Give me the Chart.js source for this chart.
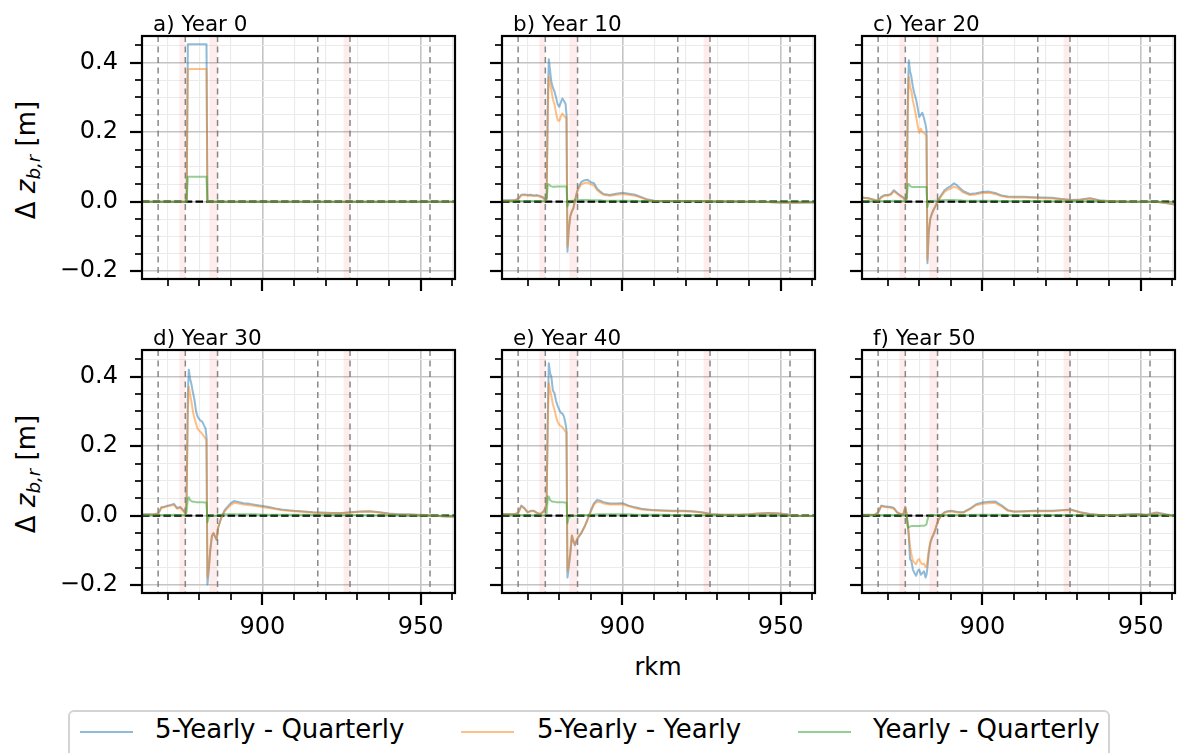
<!DOCTYPE html>
<html>
<head>
<meta charset="utf-8">
<title>Bed level difference between update frequencies</title>
<script src="https://cdn.jsdelivr.net/npm/chart.js@4.4.0/dist/chart.umd.min.js"></script>
<style>
  body { margin: 0; background: #fff; width: 1179px; height: 753px; overflow: hidden; position: relative;
         font-family: 'DejaVu Sans', sans-serif; color: #000; }
  canvas { position: absolute; }
  .lbl { position: absolute; white-space: nowrap; }
  .ttl { font-size: 21.5px; line-height: 22px; }
  .ylab { font-size: 26px; line-height: 26px; transform: translate(-50%, -50%) rotate(-90deg); }
  .ylab sub { font-size: 0.7em; vertical-align: -0.3em; line-height: 0; }
  .xlab { font-size: 24px; line-height: 24px; transform: translateX(-50%); }
  #legendBox { position: absolute; left: 68px; top: 710px; width: 1042px; height: 70px;
               border: 2px solid #d4d4d4; border-radius: 6px; box-sizing: border-box; }
  .legLine { position: absolute; height: 0; border-top: 2.5px solid; }
  .legText { position: absolute; font-size: 26px; line-height: 26px; }
</style>
</head>
<body>
<script>
//-- =============================================================================
//-- Bed level difference (delta z_b,r) along the river, six snapshots
//-- =============================================================================

// ===============================================================================
// 1. Data
// ===============================================================================
// river km of every sample (shared by all panels)
var rkm = [862, 864, 866, 867, 868, 869, 870, 871, 872, 873, 874, 875, 875.6,
  876.0, 876.4, 876.7, 877.1, 877.5, 878, 878.5, 879, 879.5, 880, 880.5, 881, 881.5, 882, 882.3, 882.6,
  883, 883.5, 884, 884.5, 885, 885.5, 886, 887, 888, 889, 890, 891, 892, 893, 894, 896, 898,
  900, 902, 904, 906, 908, 910, 913, 916, 919, 922, 925, 928, 931, 934, 937, 940, 943, 946, 949, 952, 955, 958, 961];

// a) Year 0
var fiveQ_y0 = [0, 0, 0, 0, 0, 0, 0, 0, 0, 0, 0, 0, 0,
  0, 0.453, 0.453, 0.453, 0.453, 0.453, 0.453, 0.453, 0.453, 0.453, 0.453, 0.453, 0.453, 0.453, 0.453, 0,
  0, 0, 0, 0, 0, 0, 0, 0, 0, 0, 0, 0, 0, 0, 0, 0, 0,
  0, 0, 0, 0, 0, 0, 0, 0, 0, 0, 0, 0, 0, 0, 0, 0, 0, 0, 0, 0, 0, 0, 0];
var fiveY_y0 = [0, 0, 0, 0, 0, 0, 0, 0, 0, 0, 0, 0, 0,
  0, 0.382, 0.382, 0.382, 0.382, 0.382, 0.382, 0.382, 0.382, 0.382, 0.382, 0.382, 0.382, 0.382, 0.382, 0,
  0, 0, 0, 0, 0, 0, 0, 0, 0, 0, 0, 0, 0, 0, 0, 0, 0,
  0, 0, 0, 0, 0, 0, 0, 0, 0, 0, 0, 0, 0, 0, 0, 0, 0, 0, 0, 0, 0, 0, 0];
var yearQ_y0 = [0, 0, 0, 0, 0, 0, 0, 0, 0, 0, 0, 0, 0,
  0, 0.072, 0.072, 0.072, 0.072, 0.072, 0.072, 0.072, 0.072, 0.072, 0.072, 0.072, 0.072, 0.072, 0.072, 0,
  0, 0, 0, 0, 0, 0, 0, 0, 0, 0, 0, 0, 0, 0, 0, 0, 0,
  0, 0, 0, 0, 0, 0, 0, 0, 0, 0, 0, 0, 0, 0, 0, 0, 0, 0, 0, 0, 0, 0, 0];

// b) Year 10
var fiveQ_y10 = [0.004, 0.004, 0.005, 0.008, 0.02, 0.021, 0.019, 0.02, 0.018, 0.019, 0.016, 0.012, 0.005,
  0.01, 0.3, 0.41, 0.378, 0.345, 0.328, 0.317, 0.3, 0.28, 0.273, 0.286, 0.297, 0.29, 0.282, 0.25, -0.144,
  -0.085, -0.042, -0.028, -0.019, 0.005, 0.024, 0.04, 0.057, 0.062, 0.063, 0.056, 0.053, 0.037, 0.029, 0.022, 0.019, 0.023,
  0.026, 0.023, 0.02, 0.013, 0.006, 0.003, 0.002, 0.002, 0.002, 0.002, 0.002, 0.001, 0.001, 0.001, 0.001, 0, 0, -0.001, -0.002, -0.003, -0.003, -0.002, -0.002];
var fiveY_y10 = [0.003, 0.003, 0.004, 0.007, 0.018, 0.019, 0.017, 0.018, 0.016, 0.017, 0.014, 0.01, 0.004,
  0.01, 0.26, 0.359, 0.34, 0.322, 0.295, 0.28, 0.255, 0.235, 0.232, 0.245, 0.254, 0.247, 0.242, 0.243, -0.13,
  -0.078, -0.04, -0.027, -0.018, 0.004, 0.021, 0.035, 0.05, 0.054, 0.055, 0.05, 0.046, 0.033, 0.026, 0.02, 0.017, 0.02,
  0.022, 0.02, 0.017, 0.011, 0.005, 0.002, 0.002, 0.002, 0.002, 0.002, 0.002, 0.001, 0.001, 0.001, 0.001, 0, 0, -0.001, -0.002, -0.003, -0.003, -0.002, -0.002];
var yearQ_y10 = [0.001, 0.001, 0.001, 0.001, 0.002, 0.002, 0.002, 0.002, 0.002, 0.002, 0.002, 0.002, 0.001,
  0.005, 0.05, 0.05, 0.046, 0.044, 0.043, 0.043, 0.043, 0.044, 0.044, 0.044, 0.044, 0.044, 0.044, 0.044, -0.014,
  -0.005, 0.001, 0.003, 0.003, 0.004, 0.004, 0.004, 0.005, 0.005, 0.005, 0.004, 0.004, 0.004, 0.004, 0.003, 0.003, 0.003,
  0.003, 0.003, 0.002, 0.002, 0.002, 0.001, 0.001, 0.001, 0.001, 0.001, 0.001, 0, 0, 0, 0, 0, 0, 0, 0, 0, 0, 0, 0];

// c) Year 20
var fiveQ_y20 = [0.012, 0.01, 0.005, 0.003, 0.014, 0.019, 0.019, 0.022, 0.033, 0.025, 0.018, 0.012, 0.005,
  0.01, 0.3, 0.407, 0.375, 0.36, 0.33, 0.31, 0.295, 0.27, 0.244, 0.25, 0.256, 0.24, 0.222, 0.205, -0.177,
  -0.09, -0.05, -0.035, -0.024, -0.015, -0.005, 0.005, 0.02, 0.033, 0.04, 0.045, 0.053, 0.047, 0.038, 0.03, 0.022, 0.024,
  0.028, 0.029, 0.025, 0.018, 0.015, 0.014, 0.014, 0.013, 0.012, 0.011, 0.008, 0.005, 0.006, 0.01, 0.004, 0.002, 0.001, 0, 0, 0, 0, -0.004, -0.008];
var fiveY_y20 = [0.011, 0.009, 0.004, 0.002, 0.012, 0.017, 0.017, 0.02, 0.03, 0.023, 0.016, 0.01, 0.004,
  0.01, 0.26, 0.359, 0.33, 0.32, 0.29, 0.27, 0.245, 0.22, 0.198, 0.21, 0.2, 0.198, 0.193, 0.19, -0.167,
  -0.085, -0.048, -0.034, -0.024, -0.015, -0.006, 0.003, 0.016, 0.028, 0.034, 0.038, 0.043, 0.04, 0.033, 0.026, 0.019, 0.021,
  0.025, 0.026, 0.022, 0.016, 0.013, 0.012, 0.012, 0.011, 0.01, 0.009, 0.007, 0.004, 0.005, 0.009, 0.003, 0.001, 0.001, 0, 0, 0, 0, -0.004, -0.008];
var yearQ_y20 = [0.001, 0.001, 0.001, 0.001, 0.002, 0.002, 0.002, 0.002, 0.003, 0.002, 0.002, 0.002, 0.001,
  0.004, 0.05, 0.051, 0.045, 0.043, 0.042, 0.042, 0.042, 0.042, 0.042, 0.042, 0.042, 0.042, 0.042, 0.042, -0.016,
  -0.004, 0, 0.001, 0.002, 0.003, 0.003, 0.004, 0.004, 0.005, 0.005, 0.005, 0.005, 0.004, 0.004, 0.003, 0.003, 0.003,
  0.003, 0.003, 0.003, 0.002, 0.002, 0.002, 0.002, 0.002, 0.002, 0.001, 0.001, 0.001, 0.001, 0.001, 0.001, 0, 0, 0, 0, 0, 0, 0, 0];

// d) Year 30
var fiveQ_y30 = [0.004, 0.004, 0.005, 0.006, 0.024, 0.026, 0.029, 0.031, 0.034, 0.022, 0.025, 0.015, 0.007,
  0.05, 0.35, 0.42, 0.395, 0.38, 0.355, 0.333, 0.3, 0.285, 0.278, 0.273, 0.27, 0.26, 0.251, 0.227, -0.198,
  -0.16, -0.1, -0.06, -0.05, -0.06, -0.07, -0.034, -0.005, 0.015, 0.026, 0.036, 0.042, 0.04, 0.038, 0.036, 0.034, 0.031,
  0.028, 0.025, 0.021, 0.018, 0.016, 0.014, 0.012, 0.01, 0.009, 0.008, 0.008, 0.01, 0.012, 0.013, 0.01, 0.006, 0.004, 0.004, 0.003, 0.002, 0, -0.002, -0.003];
var fiveY_y30 = [0.003, 0.003, 0.004, 0.005, 0.022, 0.024, 0.027, 0.029, 0.031, 0.02, 0.023, 0.013, 0.006,
  0.045, 0.3, 0.371, 0.35, 0.33, 0.3, 0.28, 0.265, 0.25, 0.245, 0.24, 0.235, 0.228, 0.222, 0.22, -0.178,
  -0.15, -0.095, -0.058, -0.05, -0.06, -0.068, -0.034, -0.006, 0.012, 0.022, 0.031, 0.037, 0.036, 0.034, 0.032, 0.03, 0.028,
  0.025, 0.022, 0.019, 0.016, 0.014, 0.013, 0.011, 0.009, 0.008, 0.007, 0.007, 0.009, 0.011, 0.012, 0.009, 0.005, 0.003, 0.003, 0.002, 0.001, 0, -0.002, -0.003];
var yearQ_y30 = [0.001, 0.001, 0.001, 0.001, 0.002, 0.002, 0.002, 0.002, 0.003, 0.002, 0.002, 0.002, 0.001,
  0.01, 0.05, 0.053, 0.045, 0.042, 0.04, 0.04, 0.039, 0.039, 0.039, 0.039, 0.039, 0.038, 0.038, 0.038, -0.019,
  -0.005, 0, 0, 0, 0, 0, 0.002, 0.003, 0.004, 0.004, 0.004, 0.004, 0.004, 0.004, 0.004, 0.004, 0.004,
  0.003, 0.003, 0.003, 0.003, 0.003, 0.003, 0.003, 0.003, 0.003, 0.002, 0.002, 0.002, 0.002, 0.001, 0.001, 0.001, 0.001, 0, 0, 0, 0, 0, 0];

// e) Year 40
var fiveQ_y40 = [0.005, 0.005, 0.005, 0.008, 0.029, 0.022, 0.01, 0.014, 0.014, 0.008, 0.005, 0.012, 0.022,
  0.04, 0.3, 0.439, 0.41, 0.4, 0.36, 0.352, 0.33, 0.316, 0.305, 0.296, 0.294, 0.285, 0.265, 0.246, -0.178,
  -0.15, -0.11, -0.058, -0.075, -0.085, -0.072, -0.063, -0.05, -0.032, -0.01, 0.015, 0.036, 0.045, 0.043, 0.039, 0.035, 0.035,
  0.036, 0.029, 0.024, 0.02, 0.018, 0.016, 0.015, 0.014, 0.014, 0.013, 0.01, 0.005, 0.003, 0.003, 0.003, 0.004, 0.006, 0.008, 0.007, 0.004, 0, -0.001, -0.001];
var fiveY_y40 = [0.004, 0.004, 0.004, 0.007, 0.027, 0.02, 0.009, 0.013, 0.013, 0.007, 0.004, 0.011, 0.02,
  0.035, 0.27, 0.381, 0.36, 0.345, 0.32, 0.305, 0.285, 0.27, 0.262, 0.258, 0.255, 0.248, 0.242, 0.24, -0.159,
  -0.14, -0.105, -0.056, -0.072, -0.082, -0.07, -0.061, -0.049, -0.032, -0.011, 0.012, 0.032, 0.04, 0.039, 0.035, 0.032, 0.032,
  0.033, 0.027, 0.022, 0.018, 0.016, 0.015, 0.014, 0.013, 0.013, 0.012, 0.009, 0.004, 0.003, 0.003, 0.003, 0.004, 0.006, 0.007, 0.006, 0.003, 0, -0.001, -0.001];
var yearQ_y40 = [0.001, 0.001, 0.001, 0.001, 0.002, 0.002, 0.001, 0.001, 0.001, 0.001, 0.001, 0.001, 0.002,
  0.005, 0.055, 0.055, 0.045, 0.042, 0.04, 0.04, 0.039, 0.039, 0.039, 0.039, 0.039, 0.038, 0.038, 0.038, -0.022,
  -0.006, -0.002, 0, 0, 0, 0, 0, 0.001, 0.002, 0.002, 0.003, 0.003, 0.004, 0.004, 0.004, 0.004, 0.004,
  0.004, 0.004, 0.003, 0.003, 0.003, 0.003, 0.003, 0.002, 0.002, 0.002, 0.002, 0.001, 0.001, 0.001, 0.001, 0.001, 0.001, 0.001, 0.001, 0, 0, 0, 0];

// f) Year 50
var fiveQ_y50 = [0.003, 0.003, 0.003, 0.01, 0.029, 0.027, 0.026, 0.025, 0.022, 0.01, 0.005, 0.005, 0.026,
  0.005, -0.03, -0.06, -0.125, -0.13, -0.155, -0.165, -0.173, -0.16, -0.155, -0.17, -0.165, -0.16, -0.178, -0.17, -0.15,
  -0.11, -0.08, -0.065, -0.055, -0.043, -0.028, -0.014, 0.002, 0.01, 0.013, 0.014, 0.013, 0.011, 0.01, 0.01, 0.02, 0.033,
  0.038, 0.04, 0.041, 0.03, 0.016, 0.012, 0.013, 0.014, 0.014, 0.014, 0.016, 0.018, 0.01, 0.005, 0.002, 0.001, 0.002, 0.004, 0.005, 0.003, 0.009, 0.004, 0];
var fiveY_y50 = [0.002, 0.002, 0.002, 0.009, 0.027, 0.025, 0.024, 0.023, 0.02, 0.009, 0.004, 0.004, 0.024,
  0.004, -0.025, -0.05, -0.09, -0.11, -0.13, -0.135, -0.14, -0.128, -0.125, -0.135, -0.14, -0.138, -0.148, -0.145, -0.13,
  -0.1, -0.075, -0.062, -0.053, -0.042, -0.028, -0.014, 0.001, 0.008, 0.011, 0.012, 0.011, 0.009, 0.009, 0.009, 0.018, 0.03,
  0.034, 0.036, 0.037, 0.027, 0.014, 0.011, 0.012, 0.013, 0.013, 0.013, 0.015, 0.016, 0.009, 0.004, 0.002, 0.001, 0.002, 0.003, 0.004, 0.002, 0.008, 0.003, 0];
var yearQ_y50 = [0.001, 0.001, 0.001, 0.001, 0.002, 0.002, 0.002, 0.002, 0.002, 0.001, 0.001, 0.001, 0.003,
  0, -0.034, -0.034, -0.031, -0.03, -0.03, -0.03, -0.03, -0.03, -0.03, -0.029, -0.029, -0.029, -0.027, -0.025, -0.012,
  0, 0.001, 0.002, 0.002, 0.002, 0.002, 0.002, 0.002, 0.002, 0.002, 0.002, 0.002, 0.002, 0.002, 0.002, 0.002, 0.003,
  0.003, 0.003, 0.003, 0.003, 0.002, 0.002, 0.002, 0.002, 0.002, 0.002, 0.002, 0.002, 0.002, 0.001, 0.001, 0.001, 0.001, 0.001, 0.001, 0.001, 0.001, 0.001, 0];

var panelTitles = ['a) Year 0', 'b) Year 10', 'c) Year 20', 'd) Year 30', 'e) Year 40', 'f) Year 50'];
var panelSeries = [
  [fiveQ_y0, fiveY_y0, yearQ_y0],
  [fiveQ_y10, fiveY_y10, yearQ_y10],
  [fiveQ_y20, fiveY_y20, yearQ_y20],
  [fiveQ_y30, fiveY_y30, yearQ_y30],
  [fiveQ_y40, fiveY_y40, yearQ_y40],
  [fiveQ_y50, fiveY_y50, yearQ_y50]
];
var seriesNames = ['5-Yearly - Quarterly', '5-Yearly - Yearly', 'Yearly - Quarterly'];

// axis ticks
var xMajor = [900, 950];
var xMinor = [870, 880, 890, 910, 920, 930, 940, 960];
var yMajor = [-0.2, 0, 0.2, 0.4];
var yMinor = [-0.15, -0.1, -0.05, 0.05, 0.1, 0.15, 0.25, 0.3, 0.35, 0.45];

// reference markers along the river
var dashedRkm = [867, 875.6, 885.8, 917.5, 927.7, 953];
var weirBands = [[873.7, 875.6], [883.2, 885.8], [925.7, 927.7]];

// ===============================================================================
// 2. Style and layout
// ===============================================================================
var seriesColors = ['rgba(31, 119, 180, 0.5)', 'rgba(255, 127, 14, 0.5)', 'rgba(44, 160, 44, 0.5)'];
var colLeft = [142, 502, 862];
var rowTop = [36, 350];
var plotW = 313, plotH = 243;
var padL = 80, padT = 10, padR = 10, padB = 45;
var xMin = 861.9, xMax = 960.9;
var yMin = -0.2225, yMax = 0.4768;

Chart.defaults.font.family = "'DejaVu Sans', sans-serif";
Chart.defaults.color = '#000';

function fmtY(v) {
  if (v === 0) return '0.0';
  return (v < 0 ? '\u2212' : '') + Math.abs(v).toFixed(1);
}

// keep every plot area the same size, whatever labels an axis carries
function fixAxis(s) {
  if (s.isHorizontal()) { s.height = padB; } else { s.width = padL; }
  s.paddingTop = 0; s.paddingBottom = 0; s.paddingLeft = 0; s.paddingRight = 0;
}

// bands, dashed markers and zero line under the data; ticks and frame on top
var panelDecor = {
  id: 'panelDecor',
  beforeDatasetsDraw: function(chart) {
    var ctx = chart.ctx, a = chart.chartArea, xs = chart.scales.x, ys = chart.scales.y;
    ctx.save();
    ctx.beginPath();
    ctx.rect(a.left, a.top, a.right - a.left, a.bottom - a.top);
    ctx.clip();
    ctx.fillStyle = 'rgba(255, 0, 0, 0.07)';
    weirBands.forEach(function(b) {
      var x0 = xs.getPixelForValue(b[0]), x1 = xs.getPixelForValue(b[1]);
      ctx.fillRect(x0, a.top, x1 - x0, a.bottom - a.top);
    });
    ctx.strokeStyle = 'rgba(115, 115, 115, 0.85)';
    ctx.lineWidth = 1.5;
    ctx.setLineDash([6, 4.5]);
    dashedRkm.forEach(function(r) {
      var x = xs.getPixelForValue(r);
      ctx.beginPath(); ctx.moveTo(x, a.top); ctx.lineTo(x, a.bottom); ctx.stroke();
    });
    var y0 = ys.getPixelForValue(0);
    ctx.strokeStyle = '#000';
    ctx.lineWidth = 2.2;
    ctx.setLineDash([7.5, 3.2]);
    ctx.beginPath(); ctx.moveTo(a.left, y0); ctx.lineTo(a.right, y0); ctx.stroke();
    ctx.restore();
  },
  afterDraw: function(chart) {
    var ctx = chart.ctx, a = chart.chartArea, xs = chart.scales.x, ys = chart.scales.y;
    ctx.save();
    ctx.strokeStyle = '#000';
    xs.ticks.forEach(function(t) {
      var major = xMajor.indexOf(t.value) >= 0;
      var x = Math.round(xs.getPixelForValue(t.value));
      ctx.lineWidth = major ? 2.2 : 1.7;
      ctx.beginPath(); ctx.moveTo(x, a.bottom); ctx.lineTo(x, a.bottom + (major ? 12 : 7)); ctx.stroke();
    });
    ys.ticks.forEach(function(t) {
      var major = yMajor.indexOf(t.value) >= 0;
      var y = Math.round(ys.getPixelForValue(t.value));
      ctx.lineWidth = major ? 2.2 : 1.7;
      ctx.beginPath(); ctx.moveTo(a.left, y); ctx.lineTo(a.left - (major ? 12 : 7), y); ctx.stroke();
    });
    ctx.lineWidth = 2.2;
    ctx.strokeRect(a.left, a.top, a.right - a.left, a.bottom - a.top);
    ctx.restore();
  }
};

// ===============================================================================
// 3. One chart per panel
// ===============================================================================
function plotPanel(idx) {
  var row = Math.floor(idx / 3), col = idx % 3;
  var canvas = document.createElement('canvas');
  canvas.width = plotW + padL + padR;
  canvas.height = plotH + padT + padB;
  canvas.style.left = (colLeft[col] - padL) + 'px';
  canvas.style.top = (rowTop[row] - padT) + 'px';
  document.body.appendChild(canvas);

  var datasets = panelSeries[idx].map(function(vals, k) {
    return {
      label: seriesNames[k],
      data: rkm.map(function(x, i) { return {x: x, y: vals[i]}; }),
      borderColor: seriesColors[k],
      borderWidth: 2,
      borderJoinStyle: 'round',
      pointRadius: 0,
      tension: 0,
      fill: false,
      order: 3 - k
    };
  });

  new Chart(canvas, {
    type: 'line',
    data: { datasets: datasets },
    plugins: [panelDecor],
    options: {
      responsive: false,
      animation: false,
      events: [],
      layout: { padding: { left: 0, top: padT, right: padR, bottom: 0 } },
      plugins: { legend: { display: false }, tooltip: { enabled: false } },
      scales: {
        x: {
          type: 'linear', min: xMin, max: xMax,
          afterBuildTicks: function(s) {
            s.ticks = xMinor.concat(xMajor).sort(function(p, q) { return p - q; })
              .map(function(v) { return {value: v}; });
          },
          afterFit: fixAxis,
          border: { display: false },
          grid: {
            drawTicks: false,
            color: function(c) { return c.tick && xMajor.indexOf(c.tick.value) >= 0 ? '#c4c4c4' : '#ebebeb'; },
            lineWidth: function(c) { return c.tick && xMajor.indexOf(c.tick.value) >= 0 ? 1.6 : 1.1; }
          },
          ticks: {
            display: row === 1, autoSkip: false, maxRotation: 0, padding: 20,
            font: { size: 24 },
            callback: function(v) { return xMajor.indexOf(v) >= 0 ? String(v) : ''; }
          }
        },
        y: {
          type: 'linear', min: yMin, max: yMax,
          afterBuildTicks: function(s) {
            s.ticks = yMinor.concat(yMajor).sort(function(p, q) { return p - q; })
              .map(function(v) { return {value: v}; });
          },
          afterFit: fixAxis,
          border: { display: false },
          grid: {
            drawTicks: false,
            color: function(c) { return c.tick && yMajor.indexOf(c.tick.value) >= 0 ? '#c4c4c4' : '#ebebeb'; },
            lineWidth: function(c) { return c.tick && yMajor.indexOf(c.tick.value) >= 0 ? 1.6 : 1.1; }
          },
          ticks: {
            display: col === 0, autoSkip: false, padding: 24,
            font: { size: 24 },
            callback: function(v) { return yMajor.indexOf(v) >= 0 ? fmtY(v) : ''; }
          }
        }
      }
    }
  });

  var t = document.createElement('div');
  t.className = 'lbl ttl';
  t.textContent = panelTitles[idx];
  t.style.left = (colLeft[col] + 11) + 'px';
  t.style.top = (rowTop[row] - 23.5) + 'px';
  document.body.appendChild(t);
}

for (var i = 0; i < panelTitles.length; i++) {
  plotPanel(i);
}

// ===============================================================================
// 4. Axis labels and shared legend
// ===============================================================================
rowTop.forEach(function(top) {
  var yl = document.createElement('div');
  yl.className = 'lbl ylab';
  yl.innerHTML = '\u0394 <i>z</i><sub><i>b,r</i></sub> [m]';
  yl.style.left = '26px';
  yl.style.top = (top + 124) + 'px';
  document.body.appendChild(yl);
});

var xl = document.createElement('div');
xl.className = 'lbl xlab';
xl.textContent = 'rkm';
xl.style.left = '658px';
xl.style.top = '655px';
document.body.appendChild(xl);

var legBox = document.createElement('div');
legBox.id = 'legendBox';
document.body.appendChild(legBox);
var legLineX = [80, 461, 798];
var legTextX = [155, 537, 873];
seriesNames.forEach(function(name, k) {
  var ln = document.createElement('div');
  ln.className = 'legLine';
  ln.style.left = legLineX[k] + 'px';
  ln.style.top = '731px';
  ln.style.width = '53px';
  ln.style.borderTopColor = seriesColors[k];
  document.body.appendChild(ln);
  var tx = document.createElement('div');
  tx.className = 'lbl legText';
  tx.textContent = name;
  tx.style.left = legTextX[k] + 'px';
  tx.style.top = '716px';
  document.body.appendChild(tx);
});
</script>
</body>
</html>
